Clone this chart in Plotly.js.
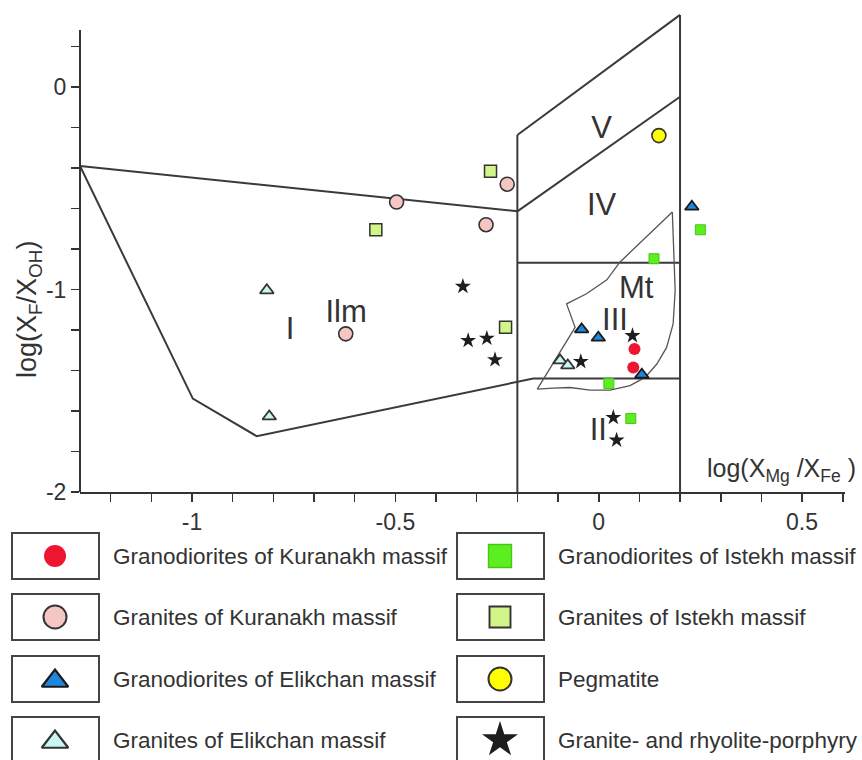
<!DOCTYPE html>
<html><head><meta charset="utf-8">
<script src="https://cdn.plot.ly/plotly-3.0.1.min.js"></script>
<style>html,body{margin:0;padding:0;background:#fff;}#chart{width:862px;height:760px;}</style>
</head><body><div id="chart"></div>
<script>
// ---------- data ----------
const seriesNames = [
  'Granodiorites of Kuranakh massif', 'Granites of Kuranakh massif',
  'Granodiorites of Elikchan massif', 'Granites of Elikchan massif',
  'Granodiorites of Istekh massif', 'Granites of Istekh massif',
  'Pegmatite', 'Granite- and rhyolite-porphyry'
];
const kuranakhGranodioriteX = [0.088, 0.085];
const kuranakhGranodioriteY = [-1.294, -1.385];
const kuranakhGraniteX = [-0.497, -0.225, -0.277, -0.622];
const kuranakhGraniteY = [-0.568, -0.480, -0.680, -1.219];
const elikchanGranodioriteX = [-0.042, -0.001, 0.106, 0.229];
const elikchanGranodioriteY = [-1.197, -1.238, -1.421, -0.591];
const elikchanGraniteX = [-0.816, -0.810, -0.095, -0.076];
const elikchanGraniteY = [-1.004, -1.627, -1.350, -1.375];
const istekhGranodioriteX = [0.136, 0.250, 0.025, 0.079];
const istekhGranodioriteY = [-0.848, -0.705, -1.464, -1.637];
const istekhGraniteX = [-0.266, -0.548, -0.229];
const istekhGraniteY = [-0.416, -0.705, -1.187];
const pegmatiteX = [0.148];
const pegmatiteY = [-0.240];
const porphyryX = [-0.334, -0.321, -0.275, -0.255, -0.044, 0.083, 0.036, 0.044];
const porphyryY = [-0.985, -1.252, -1.241, -1.347, -1.356, -1.228, -1.632, -1.744];

// field boundaries
const fieldITopX = [-1.2754, -0.2];
const fieldITopY = [-0.39, -0.614];
const fieldILowerX = [-1.2754, -0.998, -0.841, -0.161, 0.2];
const fieldILowerY = [-0.39, -1.539, -1.724, -1.44, -1.44];
const leftVerticalX = [-0.2, -0.2];
const leftVerticalY = [-0.237, -2];
const rightVerticalX = [0.2, 0.2];
const rightVerticalY = [0.356, -2];
const fieldVTopX = [-0.2, 0.2];
const fieldVTopY = [-0.237, 0.356];
const fieldVIVX = [-0.2, 0.2];
const fieldVIVY = [-0.614, -0.048];
const fieldIVIIIX = [-0.2, 0.2];
const fieldIVIIIY = [-0.868, -0.868];
const mtX = [0.181, 0.183, 0.188, 0.183, 0.167, 0.143, 0.114, 0.077, 0.028, -0.021, -0.070, -0.112, -0.151, -0.058, -0.079, -0.030, 0.020, 0.052, 0.181];
const mtY = [-0.617, -0.757, -1.005, -1.170, -1.286, -1.368, -1.434, -1.475, -1.497, -1.497, -1.484, -1.487, -1.492, -1.187, -1.071, -1.021, -0.952, -0.865, -0.617];

// field labels
const fieldLabels = ['I', 'Ilm', 'II', 'III', 'IV', 'V', 'Mt'];
const fieldLabelX = [-0.759, -0.621, -0.001, 0.040, 0.007, 0.007, 0.092];
const fieldLabelY = [-1.208, -1.12, -1.706, -1.160, -0.593, -0.212, -1.003];

// axis ticks
const xTickVals = [-1, -0.5, 0, 0.5];
const xTickText = ['-1', '-0.5', '0', '0.5'];
const yTickVals = [-2, -1, 0];
const yTickText = ['-2', '-1', '0'];

// ---------- styles ----------
const FONT = 'Liberation Sans, Arial, sans-serif';
const TXT = '#333333';
const LINE = '#3a3a3a';
const styles = [
  {symbol: 'circle', color: '#ee1530', line: {color: '#ee1530', width: 0}, size: 12, lsize: 22},
  {symbol: 'circle', color: '#f6c6c4', line: {color: '#333', width: 1.6}, size: 14, lsize: 23},
  {symbol: 'triangle-up', color: '#1e86dc', line: {color: '#1a1a1a', width: 1.8}, size: 12, lsize: 23},
  {symbol: 'triangle-up', color: '#c9f6f1', line: {color: '#333', width: 1.8}, size: 12, lsize: 23},
  {symbol: 'square', color: '#5cee1e', line: {color: '#48c41c', width: 1}, size: 10, lsize: 23},
  {symbol: 'square', color: '#d2f58a', line: {color: '#333', width: 1.5}, size: 12, lsize: 21},
  {symbol: 'circle', color: '#ffff00', line: {color: '#333', width: 1.6}, size: 14, lsize: 23},
  {symbol: 'star', color: '#1e1e1e', line: {color: '#1e1e1e', width: 0}, size: 12, lsize: 27}
];
const seriesX = [kuranakhGranodioriteX, kuranakhGraniteX, elikchanGranodioriteX, elikchanGraniteX, istekhGranodioriteX, istekhGraniteX, pegmatiteX, porphyryX];
const seriesY = [kuranakhGranodioriteY, kuranakhGraniteY, elikchanGranodioriteY, elikchanGraniteY, istekhGranodioriteY, istekhGraniteY, pegmatiteY, porphyryY];

const traces = [];
function lineTrace(x, y, w, c) {
  traces.push({x: x, y: y, mode: 'lines', line: {color: c || LINE, width: w || 2}, hoverinfo: 'skip', showlegend: false});
}
lineTrace(fieldITopX, fieldITopY);
lineTrace(fieldILowerX, fieldILowerY);
lineTrace(leftVerticalX, leftVerticalY);
lineTrace(rightVerticalX, rightVerticalY);
lineTrace(fieldVTopX, fieldVTopY);
lineTrace(fieldVIVX, fieldVIVY);
lineTrace(fieldIVIIIX, fieldIVIIIY);
lineTrace(mtX, mtY, 1.3, '#555555');

traces.push({x: fieldLabelX, y: fieldLabelY, text: fieldLabels, mode: 'text',
  textfont: {family: FONT, size: 31, color: TXT}, textposition: 'middle center',
  hoverinfo: 'skip', showlegend: false, cliponaxis: false});

seriesNames.forEach(function (name, i) {
  const s = styles[i];
  traces.push({x: seriesX[i], y: seriesY[i], name: name, mode: 'markers', showlegend: false, cliponaxis: false,
    marker: {symbol: s.symbol, color: s.color, size: s.size, line: s.line}});
});

// custom legend in a pixel-based helper subplot
const W = 862, H = 760;
const rowCenters = [556, 617, 679, 740];
const colBox = [[12, 99], [457, 544]];
const colMarker = [55, 500];
const colText = [111, 556];
const shapes = [];
const annotations = [];
seriesNames.forEach(function (name, i) {
  const col = Math.floor(i / 4), row = i % 4;
  const s = styles[i];
  const cy = rowCenters[row];
  shapes.push({type: 'rect', xref: 'x2', yref: 'y2', x0: colBox[col][0], x1: colBox[col][1], y0: cy - 23, y1: cy + 23,
    line: {color: '#444', width: 2}, fillcolor: 'rgba(0,0,0,0)'});
  traces.push({x: [colMarker[col]], y: [cy + (s.symbol === 'triangle-up' ? 2 : 0)], xaxis: 'x2', yaxis: 'y2', mode: 'markers',
    showlegend: false, hoverinfo: 'skip', cliponaxis: false,
    marker: {symbol: s.symbol, color: s.color, size: s.lsize, line: {color: s.line.color, width: s.line.width ? s.line.width + 0.4 : 0}}});
  annotations.push({xref: 'x2', yref: 'y2', x: colText[col], y: cy, text: name, showarrow: false,
    xanchor: 'left', yanchor: 'middle', font: {family: FONT, size: 22.5, color: TXT}});
});

// y-axis line (ends below the top of the plotting range)
shapes.push({type: 'line', xref: 'paper', yref: 'y', x0: 80 / W, x1: 80 / W, y0: -2, y1: 0.282, line: {color: '#333', width: 2}});

annotations.push({xref: 'paper', yref: 'paper', x: 29 / W, y: 1 - 310 / H, textangle: -90,
  text: 'log(X<sub>F</sub>/X<sub>OH</sub>)', showarrow: false, xanchor: 'center', yanchor: 'middle',
  font: {family: FONT, size: 27, color: TXT}});
annotations.push({xref: 'paper', yref: 'paper', x: 705 / W, y: 1 - 470 / H,
  text: 'log(X<sub>Mg</sub> /X<sub>Fe</sub> )', showarrow: false, xanchor: 'left', yanchor: 'middle',
  font: {family: FONT, size: 25, color: TXT}});

const tickStyle = {ticks: 'outside', ticklen: 8, tickwidth: 1.6, tickcolor: '#333'};
const layout = {
  width: W, height: H,
  margin: {l: 0, r: 0, t: 0, b: 0},
  paper_bgcolor: '#fff', plot_bgcolor: 'rgba(0,0,0,0)',
  showlegend: false,
  font: {family: FONT, color: TXT},
  xaxis: Object.assign({domain: [80 / W, 845 / W], range: [-1.2754, 0.6056], tickvals: xTickVals, ticktext: xTickText,
    showline: true, linecolor: '#333', linewidth: 2,
    minor: Object.assign({tick0: 0, dtick: 0.1}, tickStyle),
    showgrid: false, zeroline: false, tickfont: {family: FONT, size: 23, color: TXT}, anchor: 'y', fixedrange: true}, tickStyle),
  yaxis: Object.assign({domain: [1 - 492 / H, 1 - 12 / H], range: [-2, 0.3704], tickvals: yTickVals, ticktext: yTickText,
    showline: false, minor: Object.assign({tick0: 0, dtick: 0.2}, tickStyle),
    showgrid: false, zeroline: false, tickfont: {family: FONT, size: 23, color: TXT}, anchor: 'x', fixedrange: true}, tickStyle),
  xaxis2: {domain: [0, 1], range: [0, W], visible: false, anchor: 'y2', fixedrange: true},
  yaxis2: {domain: [0, 1 - 520 / H], range: [H, 520], visible: false, anchor: 'x2', fixedrange: true},
  shapes: shapes,
  annotations: annotations
};

Plotly.newPlot('chart', traces, layout, {displayModeBar: false, staticPlot: true});
</script>
</body></html>
